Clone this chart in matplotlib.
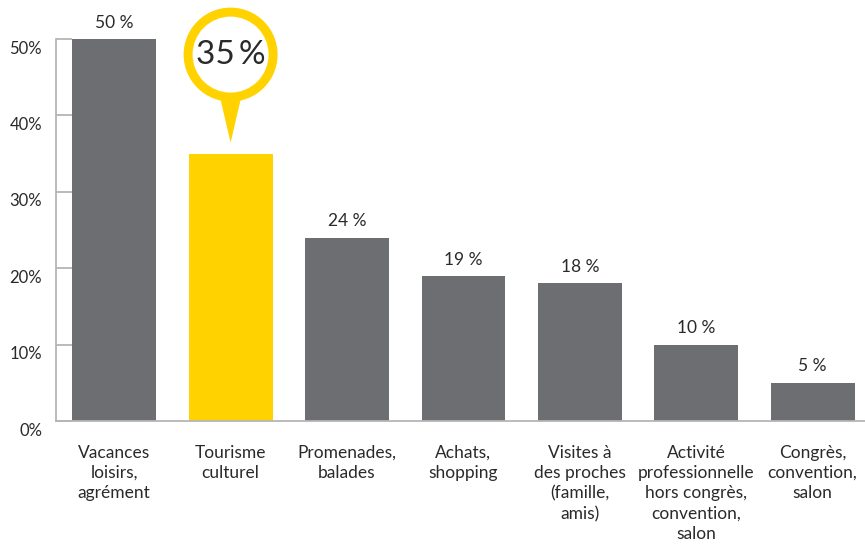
import matplotlib.pyplot as plt
import matplotlib.patches as mpatches
import matplotlib.transforms as mtransforms

plt.rcParams['font.family'] = ['Lato', 'DejaVu Sans']

categories = [
    "Vacances\nloisirs,\nagrément",
    "Tourisme\nculturel",
    "Promenades,\nbalades",
    "Achats,\nshopping",
    "Visites à\ndes proches\n(famille,\namis)",
    "Activité\nprofessionnelle\nhors congrès,\nconvention,\nsalon",
    "Congrès,\nconvention,\nsalon",
]
values = [50, 35, 24, 19, 18, 10, 5]
highlight = 1
y_ticks = [0, 10, 20, 30, 40, 50]
y_tick_labels = ["0%", "10%", "20%", "30%", "40%", "50%"]

GREY = '#6d6e71'
YELLOW = '#ffd200'
TEXT = '#2a2a2a'
AXIS = '#b5b5b5'


def main():
    fig = plt.figure(figsize=(8.65, 5.44), dpi=100)
    ax = fig.add_axes([56 / 865, 1 - 421 / 544, 1 - 56 / 865, (421 - 39) / 544])

    colors = [YELLOW if i == highlight else GREY for i in range(len(values))]
    x = list(range(len(values)))
    ax.bar(x, values, width=0.72, color=colors, zorder=2)

    ax.set_xlim(-0.5, 6.45)
    ax.set_ylim(0, 50)

    for s in ['top', 'right']:
        ax.spines[s].set_visible(False)
    for s in ['left', 'bottom']:
        ax.spines[s].set_color(AXIS)
        ax.spines[s].set_linewidth(1.3)

    ax.set_xticks(x)
    ax.set_xticklabels(categories, fontsize=12.5, color=TEXT, linespacing=1.34)
    ax.tick_params(axis='x', length=0, pad=17)

    ax.set_yticks(y_ticks)
    ax.set_yticklabels(y_tick_labels, fontsize=12, color=TEXT)
    ax.tick_params(axis='y', direction='in', length=11.5, width=1.3,
                   color=AXIS, pad=10)
    shift = mtransforms.ScaledTranslation(0, -0.08, fig.dpi_scale_trans)
    for lbl in ax.get_yticklabels():
        lbl.set_transform(lbl.get_transform() + shift)

    # value labels
    for i, v in enumerate(values):
        if i == highlight:
            continue
        ax.annotate(f"{v} %", (i, v), xytext=(0, 6), textcoords='offset points',
                    ha='center', va='bottom', fontsize=12.5, color=TEXT,
                    annotation_clip=False)

    # callout bubble for the highlighted bar
    bx, by = ax.transData.transform((highlight, values[highlight]))
    tip_y = by + 11
    cy = by + 99
    r_out, r_in = 47, 38
    ident = mtransforms.IdentityTransform()
    tri = mpatches.Polygon([(bx - 11, cy - r_out + 6), (bx + 11, cy - r_out + 6),
                            (bx, tip_y)], closed=True, facecolor=YELLOW,
                           edgecolor='none', transform=ident)
    outer = mpatches.Circle((bx, cy), r_out, facecolor=YELLOW, edgecolor='none',
                            transform=ident)
    inner = mpatches.Circle((bx, cy), r_in, facecolor='white', edgecolor='none',
                            transform=ident)
    for p in (tri, outer, inner):
        fig.add_artist(p)
    fig.text(bx / 865, cy / 544, "35\u2009%", ha='center', va='center',
             fontsize=24, color=TEXT)

    fig.savefig('out.png', dpi=100)


if __name__ == "__main__":
    main()
